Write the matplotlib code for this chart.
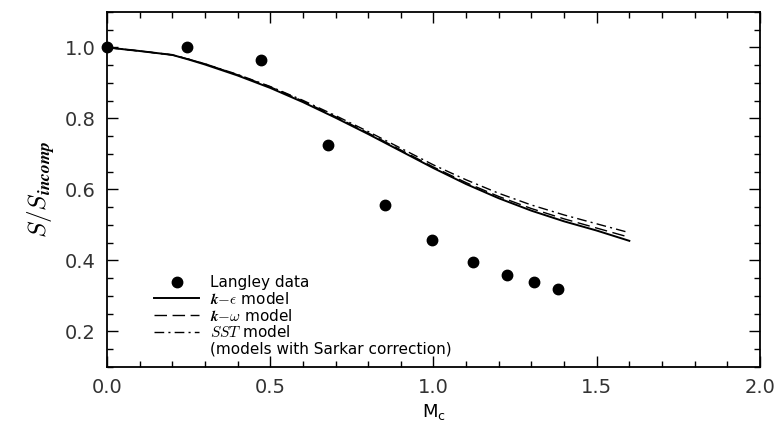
"""
Spreading rate ratio S/S_incomp vs convective Mach number:
Langley data against k-eps, k-omega and SST models (Sarkar correction).
"""

import matplotlib
matplotlib.use("Agg")
import matplotlib.pyplot as plt
from matplotlib.ticker import MultipleLocator

# Langley experimental data
langley_mc = [0.0, 0.245, 0.472, 0.678, 0.852, 0.997, 1.12, 1.224, 1.308, 1.38]
langley_s = [1.0, 1.0, 0.964, 0.724, 0.555, 0.456, 0.394, 0.359, 0.338, 0.318]

# model curves
model_mc = [0.0, 0.1, 0.2, 0.25, 0.3, 0.4, 0.5, 0.6, 0.7, 0.8, 0.9, 1.0, 1.1, 1.2, 1.3, 1.4, 1.5, 1.6]
keps_s = [1.0, 0.99, 0.979, 0.966, 0.952, 0.921, 0.886, 0.846, 0.802, 0.756, 0.708, 0.660, 0.615, 0.575, 0.540, 0.510, 0.484, 0.455]
komega_s = [1.0, 0.99, 0.979, 0.967, 0.954, 0.923, 0.889, 0.849, 0.805, 0.759, 0.711, 0.663, 0.619, 0.580, 0.546, 0.517, 0.491, 0.465]
sst_s = [1.0, 0.99, 0.979, 0.967, 0.954, 0.924, 0.890, 0.851, 0.808, 0.763, 0.716, 0.669, 0.627, 0.589, 0.556, 0.528, 0.503, 0.478]

x_ticks = [0.0, 0.5, 1.0, 1.5, 2.0]
x_ticklabels = ["0.0", "0.5", "1.0", "1.5", "2.0"]
y_ticks = [0.2, 0.4, 0.6, 0.8, 1.0]
y_ticklabels = ["0.2", "0.4", "0.6", "0.8", "1.0"]

plt.rcParams["mathtext.fontset"] = "cm"
plt.rcParams["font.family"] = "DejaVu Sans"

fig = plt.figure(figsize=(7.81, 4.28), dpi=100)
ax = fig.add_axes([0.137, 0.143, 0.836, 0.829])

ax.plot(langley_mc, langley_s, "o", color="black", markersize=7.5, label="Langley data", clip_on=False)
ax.plot(model_mc, keps_s, "-", color="black", lw=1.4, label=r"$\mathbfit{k}{-}\epsilon$ model")
ax.plot(model_mc, komega_s, "--", color="black", lw=1.0, dashes=(9, 4), label=r"$\mathbfit{k}{-}\omega$ model")
ax.plot(model_mc, sst_s, "-.", color="black", lw=1.0, dashes=(7, 3, 1.5, 3), label=r"$SST$ model")
ax.plot([], [], " ", label="(models with Sarkar correction)")

ax.set_xlim(0, 2.0)
ax.set_ylim(0.1, 1.1)
ax.set_xticks(x_ticks)
ax.set_xticklabels(x_ticklabels, color="#333333")
ax.set_yticks(y_ticks)
ax.set_yticklabels(y_ticklabels, color="#333333")
ax.xaxis.set_minor_locator(MultipleLocator(0.1))
ax.yaxis.set_minor_locator(MultipleLocator(0.05))
ax.tick_params(which="both", direction="in", top=True, right=True, width=1.0)
ax.tick_params(which="major", length=8, labelsize=14, pad=8)
ax.tick_params(which="minor", length=4)
for s in ax.spines.values():
    s.set_linewidth(1.3)

ax.set_xlabel(r"$\mathregular{M_c}$", fontsize=13, labelpad=4)
ax.set_ylabel(r"$S/S_{\mathbfit{incomp}}$", fontsize=18, labelpad=6)

ax.legend(loc="lower left", bbox_to_anchor=(0.055, 0.0), frameon=False, fontsize=11,
          handlelength=3.0, handletextpad=0.7, labelspacing=0.05, borderaxespad=0.3)

fig.savefig("out.png", dpi=100)
